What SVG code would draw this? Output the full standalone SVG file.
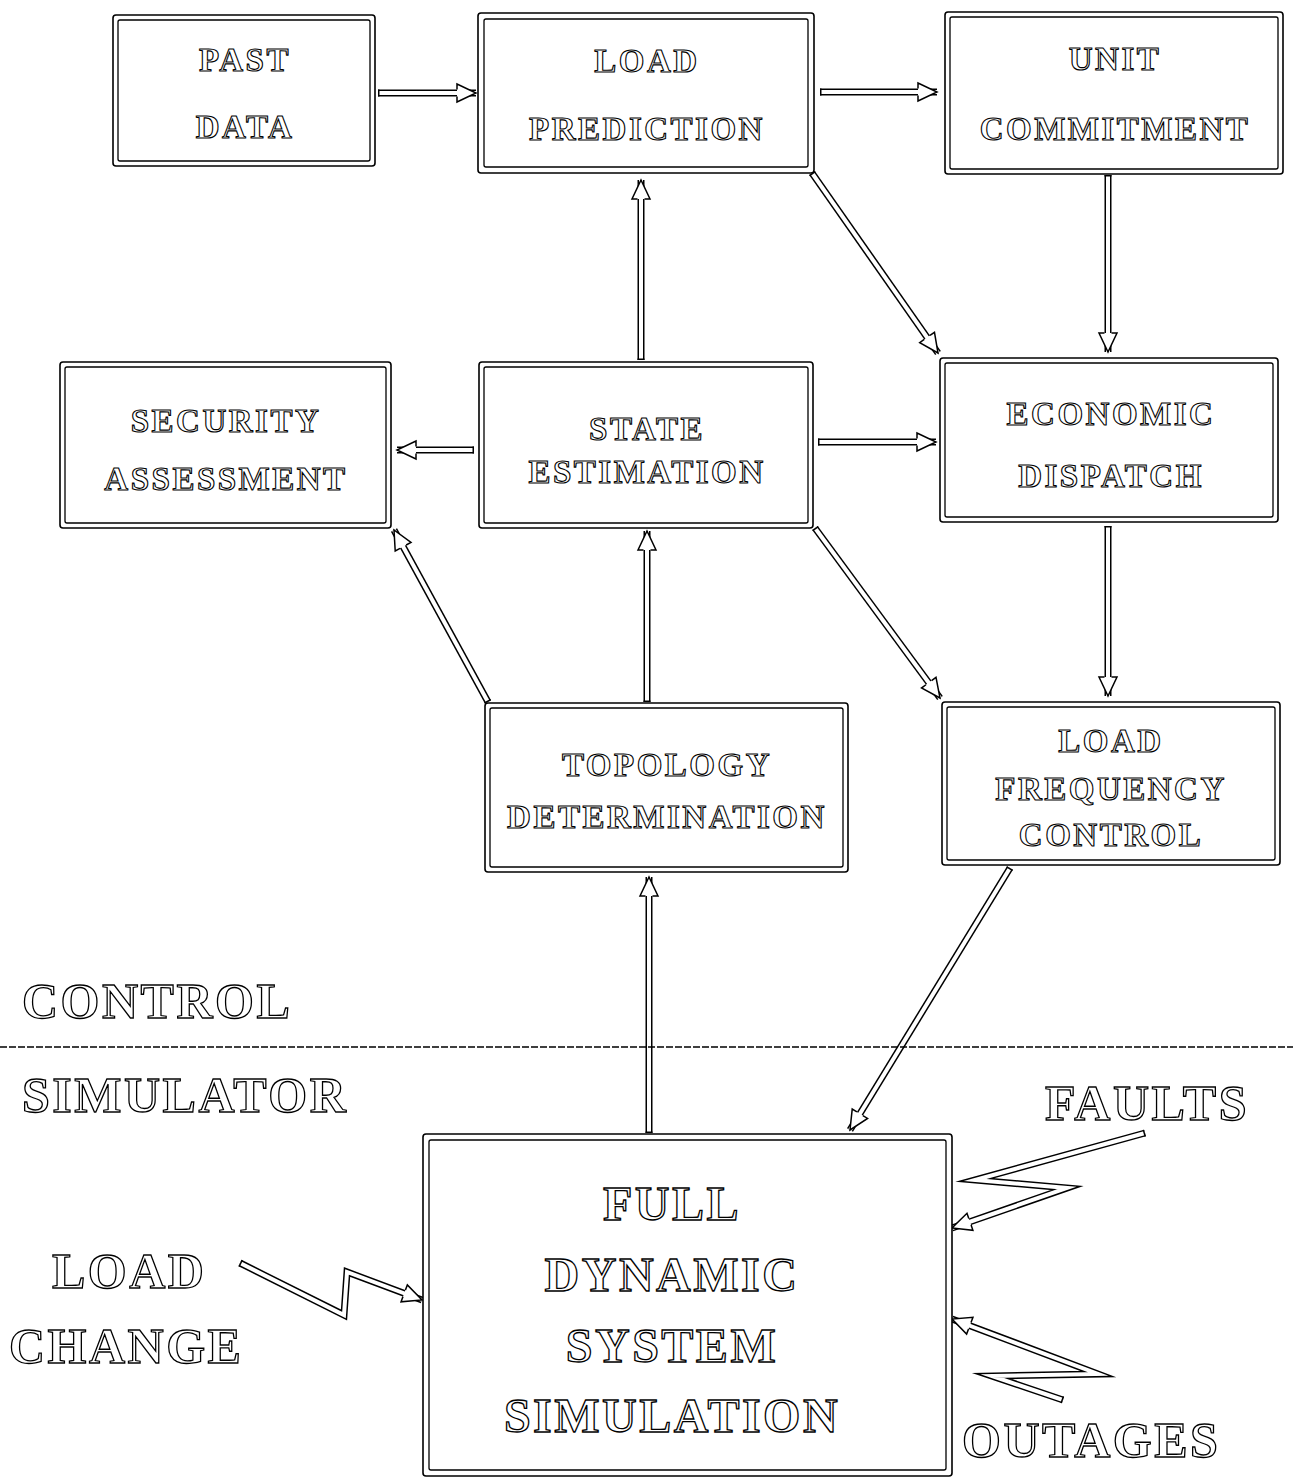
<svg xmlns="http://www.w3.org/2000/svg" width="1293" height="1478" viewBox="0 0 1293 1478">
<style>
.bo{fill:#fff;stroke:#000;stroke-width:1.6}
.bi{fill:none;stroke:#000;stroke-width:1.3}
.t{font-family:"Liberation Serif","Times New Roman",serif;font-weight:bold;font-size:33px;letter-spacing:2.5px;fill:#fff;stroke:#000;stroke-width:1.1;text-anchor:middle}
.tl{font-family:"Liberation Serif","Times New Roman",serif;font-weight:bold;font-size:50px;letter-spacing:2.5px;fill:#fff;stroke:#000;stroke-width:1.3}
.tb{font-size:48px;letter-spacing:2.5px;stroke-width:1.3}
.so{fill:none;stroke:#000;stroke-width:7;stroke-linejoin:miter;stroke-miterlimit:10}
.si{fill:none;stroke:#fff;stroke-width:4;stroke-linejoin:miter;stroke-miterlimit:10;marker-end:url(#head);marker-start:url(#cap)}
</style>
<defs>
<marker id="head" markerUnits="userSpaceOnUse" orient="auto" refX="0" refY="0" markerWidth="40" markerHeight="40" overflow="visible"><path d="M-19,-3.5 L-19,-9 L0,0 L-19,9 L-19,3.5" fill="#fff" stroke="#000" stroke-width="1.5"/></marker>
<marker id="cap" markerUnits="userSpaceOnUse" orient="auto" refX="0" refY="0" markerWidth="10" markerHeight="10" overflow="visible"><path d="M0.75,-3.5 L0.75,3.5" stroke="#000" stroke-width="1.5"/></marker>
</defs>
<rect width="1293" height="1478" fill="#fff"/>

<g id="connectors">
<path class="so" d="M378,93 H476"/><path class="si" d="M378,93 H476"/>
<path class="so" d="M820,92 H937"/><path class="si" d="M820,92 H937"/>
<path class="so" d="M812,173 L938,353"/><path class="si" d="M812,173 L938,353"/>
<path class="so" d="M1108,175 V352"/><path class="si" d="M1108,175 V352"/>
<path class="so" d="M641,360 V180"/><path class="si" d="M641,360 V180"/>
<path class="so" d="M474,450 H397"/><path class="si" d="M474,450 H397"/>
<path class="so" d="M818,442 H936"/><path class="si" d="M818,442 H936"/>
<path class="so" d="M1108,526 V696"/><path class="si" d="M1108,526 V696"/>
<path class="so" d="M815,528 L940,698"/><path class="si" d="M815,528 L940,698"/>
<path class="so" d="M647,702 V531"/><path class="si" d="M647,702 V531"/>
<path class="so" d="M488,702 L394,530"/><path class="si" d="M488,702 L394,530"/>
<path class="so" d="M649,1133 V877"/><path class="si" d="M649,1133 V877"/>
<path class="so" d="M1010,868 L850,1130"/><path class="si" d="M1010,868 L850,1130"/>
<path class="so" d="M240,1263 L344,1315 L347,1272 L422,1300"/><path class="si" d="M240,1263 L344,1315 L347,1272 L422,1300"/>
<path class="so" d="M1145,1133 L975,1180 L1067,1188 L952,1228"/><path class="si" d="M1145,1133 L975,1180 L1067,1188 L952,1228"/>
<path class="so" d="M1063,1400 L992,1376 L1098,1374 L952,1319"/><path class="si" d="M1063,1400 L992,1376 L1098,1374 L952,1319"/>
</g>

<g id="past-data">
<rect class="bo" x="113" y="15" width="262" height="151" rx="3"/>
<rect class="bi" x="118" y="20" width="252" height="141" rx="2"/>
<text class="t" x="245" y="71">PAST</text>
<text class="t" x="245" y="138">DATA</text>
</g>
<g id="load-prediction">
<rect class="bo" x="478" y="13" width="336" height="160" rx="3"/>
<rect class="bi" x="484" y="19" width="324" height="148" rx="2"/>
<text class="t" x="647" y="72">LOAD</text>
<text class="t" x="647" y="140">PREDICTION</text>
</g>
<g id="unit-commitment">
<rect class="bo" x="945" y="12" width="338" height="162" rx="3"/>
<rect class="bi" x="950" y="17" width="328" height="152" rx="2"/>
<text class="t" x="1115" y="70">UNIT</text>
<text class="t" x="1115" y="140">COMMITMENT</text>
</g>
<g id="security-assessment">
<rect class="bo" x="60" y="362" width="331" height="166" rx="3"/>
<rect class="bi" x="65" y="367" width="321" height="156" rx="2"/>
<text class="t" x="226" y="432">SECURITY</text>
<text class="t" x="226" y="490">ASSESSMENT</text>
</g>
<g id="state-estimation">
<rect class="bo" x="479" y="362" width="334" height="166" rx="3"/>
<rect class="bi" x="484" y="367" width="324" height="156" rx="2"/>
<text class="t" x="647" y="440">STATE</text>
<text class="t" x="647" y="483">ESTIMATION</text>
</g>
<g id="economic-dispatch">
<rect class="bo" x="940" y="358" width="338" height="164" rx="3"/>
<rect class="bi" x="945" y="363" width="328" height="154" rx="2"/>
<text class="t" x="1111" y="425">ECONOMIC</text>
<text class="t" x="1111" y="487">DISPATCH</text>
</g>
<g id="topology-determination">
<rect class="bo" x="485" y="703" width="363" height="169" rx="3"/>
<rect class="bi" x="490" y="708" width="353" height="159" rx="2"/>
<text class="t" x="667" y="776">TOPOLOGY</text>
<text class="t" x="667" y="828">DETERMINATION</text>
</g>
<g id="load-frequency-control">
<rect class="bo" x="942" y="702" width="338" height="163" rx="3"/>
<rect class="bi" x="947" y="707" width="328" height="153" rx="2"/>
<text class="t" x="1111" y="752">LOAD</text>
<text class="t" x="1111" y="800">FREQUENCY</text>
<text class="t" x="1111" y="846">CONTROL</text>
</g>
<g id="full-dynamic-system-simulation">
<rect class="bo" x="423" y="1134" width="529" height="342" rx="3"/>
<rect class="bi" x="429" y="1140" width="517" height="330" rx="2"/>
<text class="t tb" x="672" y="1220">FULL</text>
<text class="t tb" x="672" y="1291">DYNAMIC</text>
<text class="t tb" x="672" y="1362">SYSTEM</text>
<text class="t tb" x="672" y="1432">SIMULATION</text>
</g>

<g id="divider">
<line x1="0" y1="1047" x2="1293" y2="1047" stroke="#000" stroke-width="1.5" stroke-dasharray="7 2"/>
</g>
<g id="labels">
<text class="tl" x="22" y="1018">CONTROL</text>
<text class="tl" x="22" y="1112">SIMULATOR</text>
<text class="tl" x="1045" y="1120">FAULTS</text>
<text class="tl" x="52" y="1288">LOAD</text>
<text class="tl" x="9" y="1363">CHANGE</text>
<text class="tl" x="962" y="1457">OUTAGES</text>
</g>
</svg>
